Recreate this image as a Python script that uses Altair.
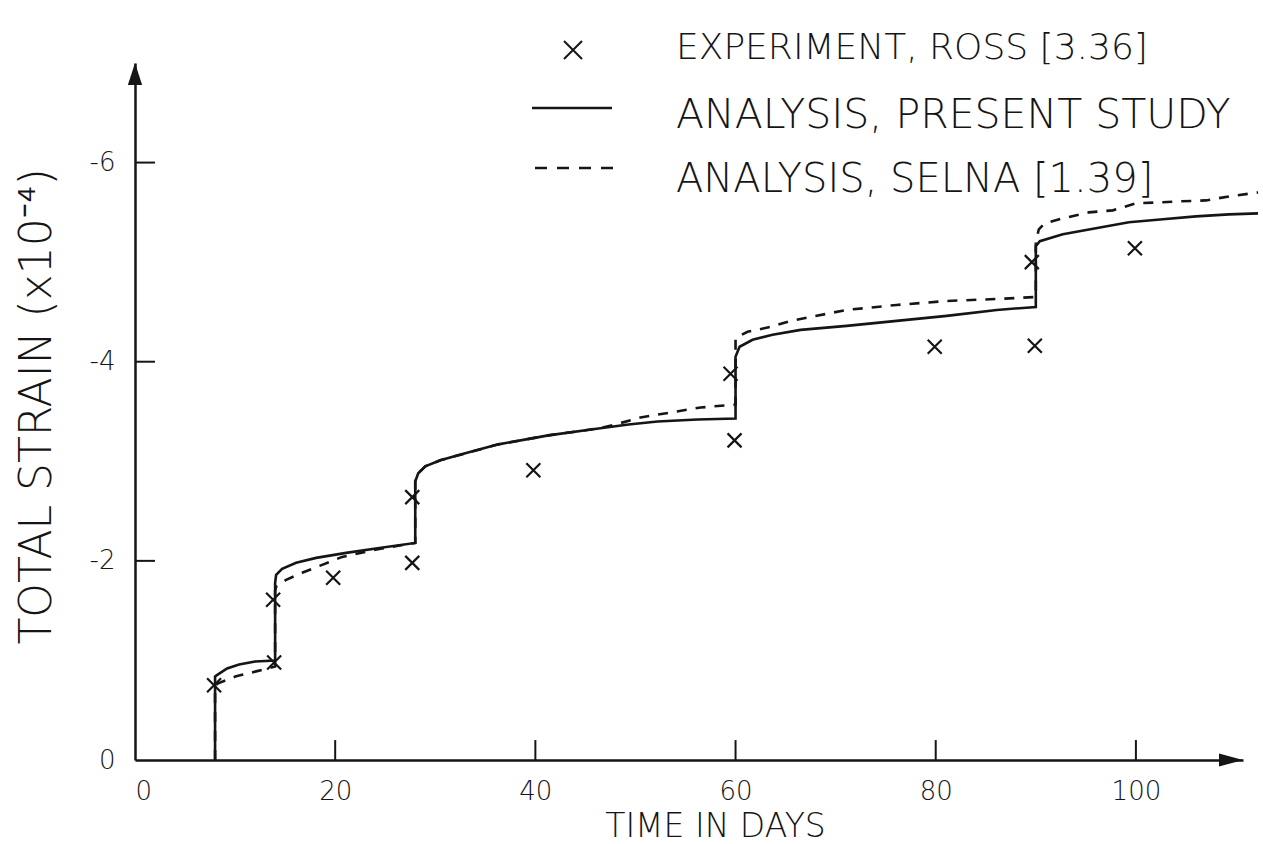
import altair as alt
import pandas as pd

# ---- Experiment, Ross [3.36] ----
exp_day = [7.9, 13.9, 13.8, 19.8, 27.7, 27.7, 39.8, 59.9, 59.5, 79.9, 89.9, 89.6, 99.9]
exp_strain = [-0.75, -0.98, -1.61, -1.83, -1.98, -2.64, -2.91, -3.21, -3.88,
              -4.15, -4.16, -5.00, -5.14]

# ---- Analysis, present study (solid) ----
solid_day = [8, 8, 8.3, 9.2, 10.4, 12.0, 14,
             14, 14.1, 14.7, 16.1, 18.1, 21.1, 24.4, 28,
             28, 28.3, 29, 30.5, 33, 36.3, 41.3, 46.3, 49.3, 52.2, 56.2, 60,
             60, 60.4, 61.7, 63.7, 66.5, 71.1, 76.1, 81.1, 86.1, 90,
             90, 90.4, 92.7, 96.0, 99.3, 102.7, 106.0, 109.3, 112.2]
solid_strain = [0, -0.84, -0.86, -0.92, -0.96, -0.99, -1.00,
                -1.78, -1.86, -1.92, -1.98, -2.03, -2.08, -2.13, -2.18,
                -2.80, -2.88, -2.95, -3.01, -3.08, -3.17, -3.26, -3.33, -3.37, -3.40, -3.42, -3.43,
                -4.05, -4.15, -4.22, -4.27, -4.32, -4.36, -4.41, -4.46, -4.52, -4.55,
                -5.16, -5.21, -5.28, -5.34, -5.40, -5.43, -5.46, -5.48, -5.49]

# ---- Analysis, Selna [1.39] (dashed) ----
dash_day = [8, 8, 8.3, 10.1, 12.1, 14,
            14, 14.1, 15.1, 16.7, 18.7, 20.7, 24.4, 28,
            28, 28.3, 29, 30.5, 33, 36.3, 41.3, 46.3, 48, 50.5, 53.5, 56.5, 60,
            60, 61.2, 63.5, 65.5, 71.1, 76.1, 81.1, 86.1, 90,
            90, 90.3, 90.9, 92.7, 95.3, 97.7, 100, 104.3, 107, 109.3, 112.2]
dash_strain = [0, -0.75, -0.77, -0.84, -0.89, -0.94,
               -1.70, -1.74, -1.81, -1.88, -1.96, -2.04, -2.12, -2.18,
               -2.80, -2.88, -2.95, -3.01, -3.08, -3.17, -3.26, -3.33, -3.37, -3.44, -3.49, -3.54, -3.57,
               -4.24, -4.30, -4.35, -4.41, -4.52, -4.57, -4.61, -4.63, -4.65,
               -5.20, -5.33, -5.39, -5.44, -5.50, -5.52, -5.59, -5.61, -5.62, -5.66, -5.70]

# axis ticks and labels
x_ticks = [0, 20, 40, 60, 80, 100]
y_ticks = [0, -2, -4, -6]
x_max = 110.7
y_min = -7.0

legend_labels = ["EXPERIMENT, ROSS [3.36]",
                 "ANALYSIS, PRESENT STUDY",
                 "ANALYSIS, SELNA [1.39]"]

INK = "#151515"
FONT = "DejaVu Sans"
W, H = 1108, 697

exp_df = pd.DataFrame({"day": exp_day, "strain": exp_strain})
solid_df = pd.DataFrame({"day": solid_day, "strain": solid_strain,
                         "i": range(len(solid_day))})
dash_df = pd.DataFrame({"day": dash_day, "strain": dash_strain,
                        "i": range(len(dash_day))})

xs = alt.Scale(domain=[0, x_max], nice=False, zero=False)
ys = alt.Scale(domain=[y_min, 0], reverse=True, nice=False, zero=False)

x_axis = alt.Axis(values=x_ticks, ticks=False, grid=False, domainColor=INK,
                  domainWidth=2.5, labelFont=FONT, labelFontSize=26,
                  labelFontWeight=300, labelColor=INK, labelPadding=18,
                  title="TIME IN DAYS", titleFont=FONT, titleFontSize=33,
                  titleFontWeight=300, titleColor=INK, titleX=580, titleY=66,
                  titleAlign="center", titleBaseline="middle")
y_axis = alt.Axis(values=y_ticks, ticks=False, grid=False, domainColor=INK,
                  domainWidth=2.5, labelFont=FONT, labelFontSize=26,
                  labelFontWeight=300, labelColor=INK, labelPadding=20,
                  labelExpr="datum.value == 0 ? '0' : '-' + abs(datum.value)",
                  title="TOTAL STRAIN (x10⁻⁴)", titleFont=FONT, titleFontSize=44,
                  titleFontWeight=300, titleColor=INK, titleX=-98, titleY=343,
                  titleAlign="center", titleBaseline="middle", titleAngle=270)

X = alt.X("day:Q", scale=xs, axis=x_axis, title="TIME IN DAYS")
Y = alt.Y("strain:Q", scale=ys, axis=y_axis, title="TOTAL STRAIN (x10⁻⁴)")

dashed = alt.Chart(dash_df).mark_line(
    color=INK, strokeWidth=2.6, strokeDash=[10, 9], interpolate="linear"
).encode(x=X, y=Y, order="i:Q")

solid = alt.Chart(solid_df).mark_line(
    color=INK, strokeWidth=2.6, interpolate="linear"
).encode(x=X, y=Y, order="i:Q")

X_SHAPE = "M-1,-1L1,1M1,-1L-1,1"
points = alt.Chart(exp_df).mark_point(
    shape=X_SHAPE, size=196, filled=False, color=INK, strokeWidth=2.2, opacity=1
).encode(x=X, y=Y)

# inward tick marks on both axes
xt_df = pd.DataFrame({"day": x_ticks[1:], "strain": [0.0] * 5, "strain2": [-0.2] * 5})
x_tick_marks = alt.Chart(xt_df).mark_rule(color=INK, strokeWidth=2).encode(
    x=X, y=Y, y2="strain2:Q")
yt_df = pd.DataFrame({"day": [0.0] * 3, "day2": [2.0] * 3, "strain": y_ticks[1:]})
y_tick_marks = alt.Chart(yt_df).mark_rule(color=INK, strokeWidth=2).encode(
    x=X, x2="day2:Q", y=Y)

# arrow heads at the axis ends
up_df = pd.DataFrame({"day": [0.0], "strain": [y_min]})
up_arrow = alt.Chart(up_df).mark_point(
    shape="M0,0L-0.65,2L0.65,2Z", size=484, filled=True, color=INK, opacity=1
).encode(x=X, y=Y)
right_df = pd.DataFrame({"day": [x_max], "strain": [0.0]})
right_arrow = alt.Chart(right_df).mark_point(
    shape="M0,0L-2,-0.55L-2,0.55Z", size=576, filled=True, color=INK, opacity=1
).encode(x=X, y=Y)

# key in the upper right
key_x = alt.Chart(pd.DataFrame({"k": [0]})).mark_point(
    shape=X_SHAPE, size=324, filled=False, color=INK, strokeWidth=2, opacity=1
).encode(x=alt.value(438), y=alt.value(-13))
key_solid = alt.Chart(pd.DataFrame({"k": [0]})).mark_rule(
    color=INK, strokeWidth=2.4
).encode(x=alt.value(397), x2=alt.value(477), y=alt.value(45))
key_dash = alt.Chart(pd.DataFrame({"k": [0]})).mark_rule(
    color=INK, strokeWidth=2.4, strokeDash=[12, 10]
).encode(x=alt.value(400), x2=alt.value(480), y=alt.value(105))

key_texts = []
for lab, ypos, fs in zip(legend_labels, [-15, 53, 117], [36, 41, 40]):
    key_texts.append(
        alt.Chart(pd.DataFrame({"label": [lab]})).mark_text(
            align="left", baseline="middle", font=FONT, fontSize=fs,
            fontWeight=300, color=INK
        ).encode(x=alt.value(541), y=alt.value(ypos), text="label:N")
    )

chart = alt.layer(
    dashed, solid, points, x_tick_marks, y_tick_marks, up_arrow, right_arrow,
    key_x, key_solid, key_dash, *key_texts
).properties(
    width=W, height=H,
    autosize=alt.AutoSizeParams(type="none"),
    padding={"left": 135, "top": 63, "right": 20, "bottom": 84},
    background="white",
).configure_view(stroke=None)

chart.save("out.html", embed_options={"renderer": "svg", "actions": False})
